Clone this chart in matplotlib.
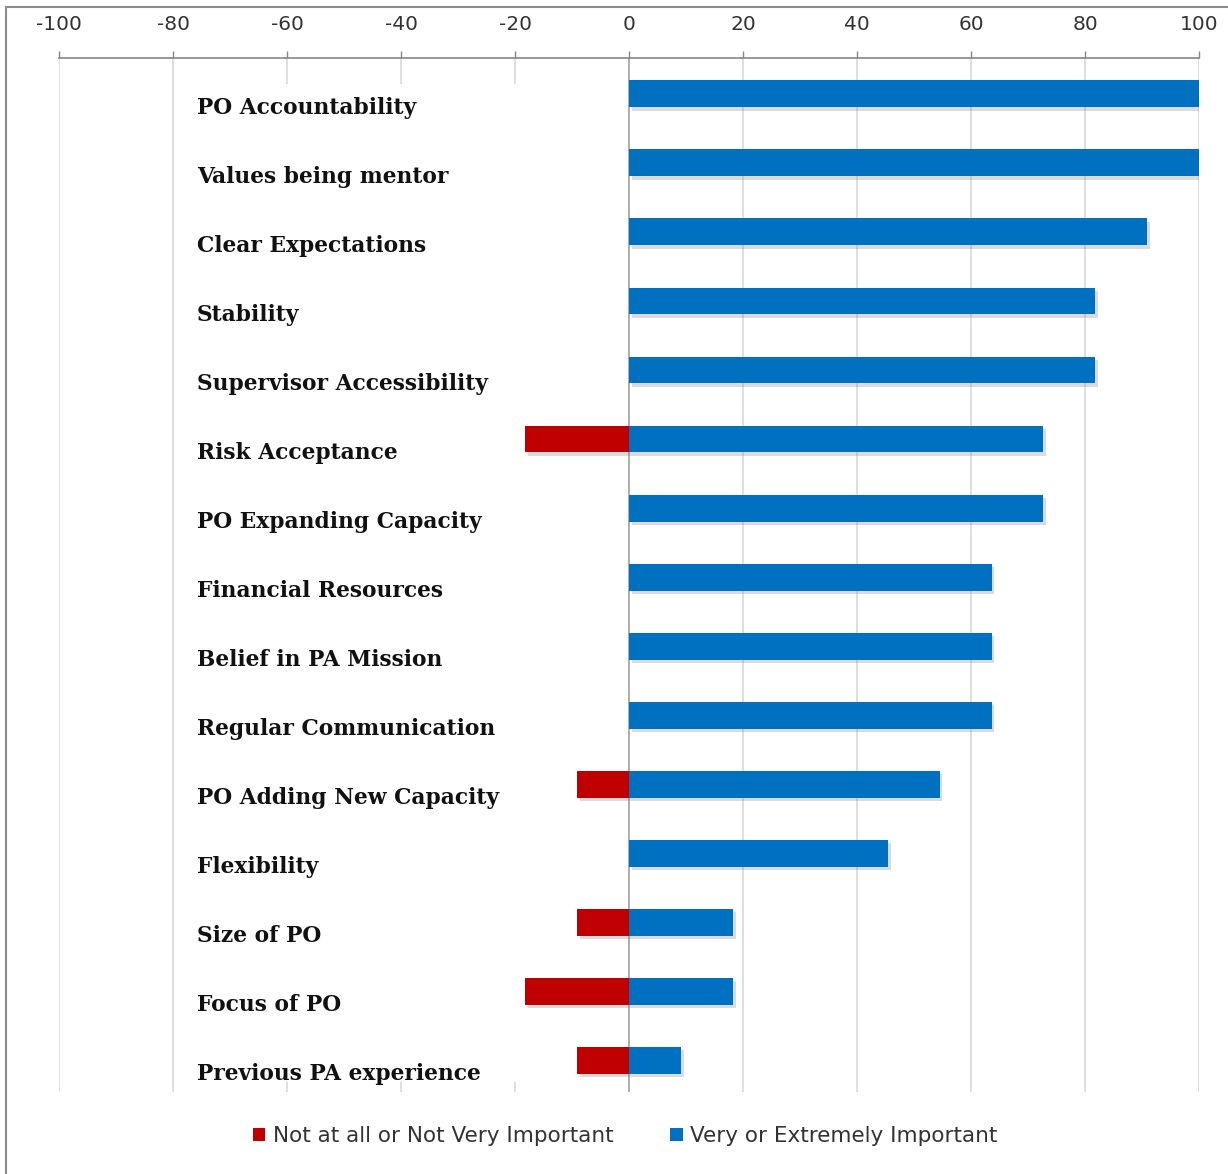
import matplotlib
matplotlib.use("Agg")
import matplotlib.pyplot as plt
from matplotlib.patches import Rectangle
from matplotlib.lines import Line2D
import matplotlib.patheffects as pe

# odgovori, od zgoraj navzdol
kategorije = [
    "PO Accountability",
    "Values being mentor",
    "Clear Expectations",
    "Stability",
    "Supervisor Accessibility",
    "Risk Acceptance",
    "PO Expanding Capacity",
    "Financial Resources",
    "Belief in PA Mission",
    "Regular Communication",
    "PO Adding New Capacity",
    "Flexibility",
    "Size of PO",
    "Focus of PO",
    "Previous PA experience",
]
nepomembno = [0, 0, 0, 0, 0, -18.2, 0, 0, 0, 0, -9.1, 0, -9.1, -18.2, -9.1]
pomembno = [100, 100, 90.9, 81.8, 81.8, 72.7, 72.7, 63.6, 63.6, 63.6, 54.5, 45.5, 18.2, 18.2, 9.1]
oznake_x = [-100, -80, -60, -40, -20, 0, 20, 40, 60, 80, 100]
legenda = ["Not at all or Not Very Important", "Very or Extremely Important"]

rdeca = "#C00000"
modra = "#0070C0"

fig = plt.figure(figsize=(12.28, 11.74), dpi=100)
ax = fig.add_axes([59 / 1228, 1 - 1092 / 1174, 1140 / 1228, (1092 - 58) / 1174])

y = list(range(len(kategorije)))
senca = [pe.SimplePatchShadow(offset=(2, -2.5), shadow_rgbFace="#808080", alpha=0.28), pe.Normal()]
b1 = ax.barh(y, nepomembno, height=0.39, color=rdeca, zorder=3)
b2 = ax.barh(y, pomembno, height=0.39, color=modra, zorder=3)
for p in list(b1) + list(b2):
    if p.get_width() != 0:
        p.set_path_effects(senca)

ax.set_xlim(-100, 100)
ax.set_ylim(14.46, -0.52)

# mreza in os
ax.set_axisbelow(True)
ax.grid(axis="x", color="#d9d9d9", linewidth=1.2, zorder=0)
ax.axvline(0, color="#a6a6a6", linewidth=1.2, zorder=1)
ax.add_patch(Rectangle((-78.5, -0.15), 77.5, 14.47, facecolor="white", edgecolor="none", zorder=1.5))

for i, k in enumerate(kategorije):
    ax.text(-75.8, i + 0.29, k, ha="left", va="baseline", fontsize=15.7,
            family="DejaVu Serif", fontweight="bold", color="#111111", zorder=4)

ax.xaxis.tick_top()
ax.set_xticks(oznake_x)
ax.set_xticklabels([str(v) for v in oznake_x])
ax.tick_params(axis="x", direction="out", length=5, width=1, color="#868686",
               pad=12, labelsize=14.5, labelcolor="#333333")
ax.set_yticks([])
for s in ["bottom", "left", "right"]:
    ax.spines[s].set_visible(False)
ax.spines["top"].set_color("#868686")
ax.spines["top"].set_linewidth(1.2)

rocaji = [Rectangle((0, 0), 1, 1, facecolor=rdeca), Rectangle((0, 0), 1, 1, facecolor=modra)]
fig.legend(handles=rocaji, labels=legenda, loc="center", bbox_to_anchor=(625 / 1228, 1 - 1136 / 1174),
           ncol=2, frameon=False, fontsize=15.5, handlelength=0.6, handleheight=0.6,
           handletextpad=0.35, columnspacing=2.6, labelcolor="#333333")

# okvir grafa
fig.add_artist(Line2D([6 / 1228, 6 / 1228], [0, 1 - 7 / 1174], color="#8c8c8c", linewidth=1.5))
fig.add_artist(Line2D([6 / 1228, 1], [1 - 7 / 1174, 1 - 7 / 1174], color="#8c8c8c", linewidth=1.5))

fig.savefig("out.png", dpi=100)
